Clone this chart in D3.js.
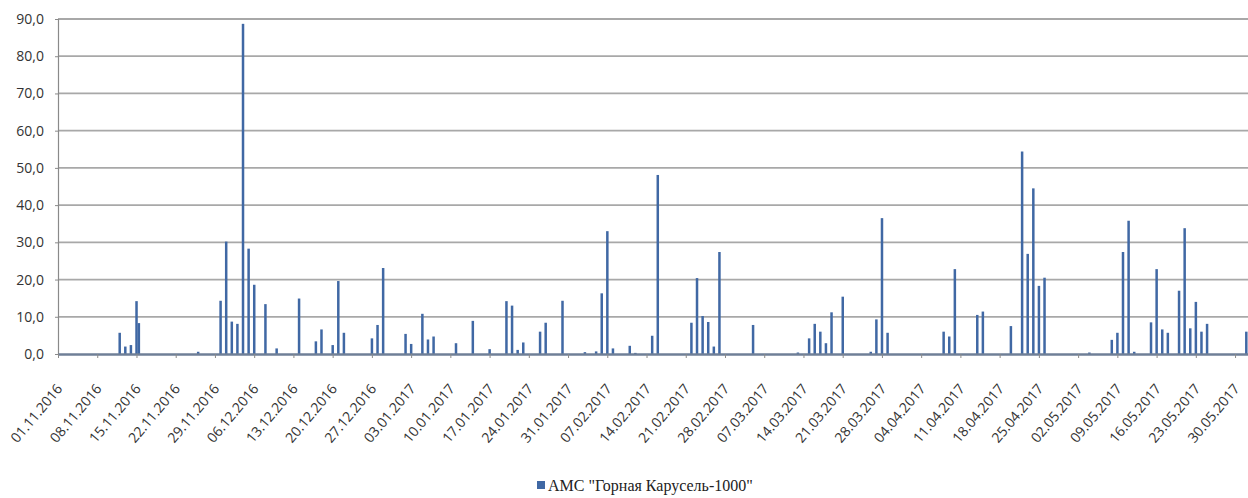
<!DOCTYPE html>
<html>
<head>
<meta charset="utf-8">
<script src="https://cdn.jsdelivr.net/npm/d3@7"></script>
<style>
  body { margin: 0; background: #fff; }
  svg { display: block; }
</style>
</head>
<body>
<svg id="chart"></svg>
<script>
const obsDates = [
  '12.11.2016', '13.11.2016', '14.11.2016', '15.11.2016', '15.11.2016 10:00', '26.11.2016',
  '30.11.2016', '01.12.2016', '02.12.2016', '03.12.2016', '04.12.2016', '05.12.2016',
  '06.12.2016', '08.12.2016', '10.12.2016', '14.12.2016', '17.12.2016', '18.12.2016',
  '20.12.2016', '21.12.2016', '22.12.2016', '27.12.2016', '28.12.2016', '29.12.2016',
  '02.01.2017', '03.01.2017', '05.01.2017', '06.01.2017', '07.01.2017', '11.01.2017',
  '14.01.2017', '17.01.2017', '20.01.2017', '21.01.2017', '22.01.2017', '23.01.2017',
  '26.01.2017', '27.01.2017', '30.01.2017', '03.02.2017', '05.02.2017', '06.02.2017',
  '07.02.2017', '08.02.2017', '11.02.2017', '12.02.2017', '15.02.2017', '16.02.2017',
  '22.02.2017', '23.02.2017', '24.02.2017', '25.02.2017', '26.02.2017', '27.02.2017',
  '05.03.2017', '13.03.2017', '15.03.2017', '16.03.2017', '17.03.2017', '18.03.2017',
  '19.03.2017', '21.03.2017', '26.03.2017', '27.03.2017', '28.03.2017', '29.03.2017',
  '08.04.2017', '09.04.2017', '10.04.2017', '14.04.2017', '15.04.2017', '20.04.2017',
  '22.04.2017', '23.04.2017', '24.04.2017', '25.04.2017', '26.04.2017', '04.05.2017',
  '08.05.2017', '09.05.2017', '10.05.2017', '11.05.2017', '12.05.2017', '15.05.2017',
  '16.05.2017', '17.05.2017', '18.05.2017', '20.05.2017', '21.05.2017', '22.05.2017',
  '23.05.2017', '24.05.2017', '25.05.2017', '01.06.2017'
];
const obsValues = [
  5.7, 2.0, 2.4, 14.2, 8.3, 0.6,
  14.3, 30.2, 8.7, 8.1, 88.7, 28.3,
  18.6, 13.4, 1.5, 14.9, 3.4, 6.6,
  2.4, 19.6, 5.7, 4.2, 7.8, 23.1,
  5.4, 2.7, 10.8, 3.9, 4.7, 2.9,
  8.9, 1.3, 14.2, 13.0, 1.1, 3.1,
  6.0, 8.4, 14.3, 0.5, 0.7, 16.3,
  33.0, 1.5, 2.2, 0.3, 4.9, 48.1,
  8.4, 20.4, 10.2, 8.6, 2.0, 27.4,
  7.8, 0.4, 4.2, 8.1, 6.0, 2.9,
  11.2, 15.4, 0.6, 9.3, 36.5, 5.7,
  6.0, 4.7, 22.8, 10.5, 11.4, 7.5,
  54.4, 26.9, 44.5, 18.3, 20.5, 0.4,
  3.8, 5.7, 27.4, 35.8, 0.6, 8.5,
  22.8, 6.6, 5.7, 17.0, 33.8, 6.9,
  14.0, 6.0, 8.1, 6.0
];
const xTickLabels = [
  '01.11.2016', '08.11.2016', '15.11.2016', '22.11.2016', '29.11.2016', '06.12.2016',
  '13.12.2016', '20.12.2016', '27.12.2016', '03.01.2017', '10.01.2017', '17.01.2017',
  '24.01.2017', '31.01.2017', '07.02.2017', '14.02.2017', '21.02.2017', '28.02.2017',
  '07.03.2017', '14.03.2017', '21.03.2017', '28.03.2017', '04.04.2017', '11.04.2017',
  '18.04.2017', '25.04.2017', '02.05.2017', '09.05.2017', '16.05.2017', '23.05.2017',
  '30.05.2017'
];
const yTicks = [0, 10, 20, 30, 40, 50, 60, 70, 80, 90];
const seriesName = 'АМС "Горная Карусель-1000"';
const xStart = '01.11.2016';
const xEnd = '02.06.2017';

const parseDay = d3.timeParse('%d.%m.%Y');
const parseDayTime = d3.timeParse('%d.%m.%Y %H:%M');
const parse = s => parseDayTime(s) || parseDay(s);

const width = 1248, height = 498;
const margin = {top: 19, left: 58};
const plotBottom = 354;
const barColor = '#4068a4';
const labelFont = '"Open Sans", sans-serif';

const data = obsDates.map((d, i) => ({date: parse(d), value: obsValues[i]}));

const svg = d3.select('#chart')
    .attr('width', width)
    .attr('height', height);

const x = d3.scaleTime()
    .domain([parse(xStart), parse(xEnd)])
    .range([margin.left, margin.left + 213 * 5.605]);

const y = d3.scaleLinear()
    .domain([0, 90])
    .range([plotBottom, margin.top]);

// horizontal gridlines
svg.append('g')
  .selectAll('line')
  .data(yTicks.filter(t => t > 0))
  .join('line')
    .attr('x1', margin.left)
    .attr('x2', width)
    .attr('y1', d => y(d))
    .attr('y2', d => y(d))
    .attr('stroke', '#a8a8a8')
    .attr('stroke-width', 1.8);

// y axis
const yAxis = d3.axisLeft(y)
    .tickValues(yTicks)
    .tickSize(3)
    .tickPadding(11)
    .tickFormat(d => d3.format('.1f')(d).replace('.', ','));

const yAxisG = svg.append('g')
    .attr('transform', `translate(${margin.left},0)`)
    .call(yAxis)
    .attr('font-family', labelFont)
    .attr('font-size', 14);
yAxisG.select('.domain').attr('stroke', '#8a8a8a').attr('stroke-width', 1.2);
yAxisG.selectAll('.tick line').attr('stroke', '#8a8a8a');
yAxisG.selectAll('.tick text').attr('fill', '#333');

// bars
svg.append('g')
  .selectAll('rect')
  .data(data)
  .join('rect')
    .attr('x', d => x(d.date) - 1.2)
    .attr('width', 2.5)
    .attr('y', d => y(d.value))
    .attr('height', d => y(0) - y(d.value))
    .attr('fill', barColor);

// x axis
const xAxis = d3.axisBottom(x)
    .tickValues(xTickLabels.map(parseDay))
    .tickSize(4)
    .tickSizeOuter(0)
    .tickFormat(d3.timeFormat('%d.%m.%Y'));

const xAxisG = svg.append('g')
    .attr('transform', `translate(0,${plotBottom})`)
    .call(xAxis)
    .attr('font-family', labelFont)
    .attr('font-size', 14);
xAxisG.select('.domain').attr('stroke', '#6f7f97').attr('stroke-width', 2.5);
xAxisG.selectAll('.tick line').attr('stroke', '#8a8a8a');
xAxisG.selectAll('.tick text')
    .attr('fill', '#333')
    .attr('text-anchor', 'end')
    .attr('dy', '0.35em')
    .attr('transform', 'translate(1,32) rotate(-50)')
    .attr('x', 0)
    .attr('y', 0);

// legend
const legend = svg.append('g')
    .attr('transform', 'translate(537,485)');
legend.append('rect')
    .attr('x', 0)
    .attr('y', -4)
    .attr('width', 8)
    .attr('height', 8)
    .attr('fill', barColor);
legend.append('text')
    .attr('x', 11)
    .attr('y', 0)
    .attr('dy', '0.35em')
    .attr('font-family', '"Times New Roman", "Liberation Serif", "Noto Serif", serif')
    .attr('font-size', 16)
    .attr('fill', '#222')
    .text(seriesName);
</script>
</body>
</html>
